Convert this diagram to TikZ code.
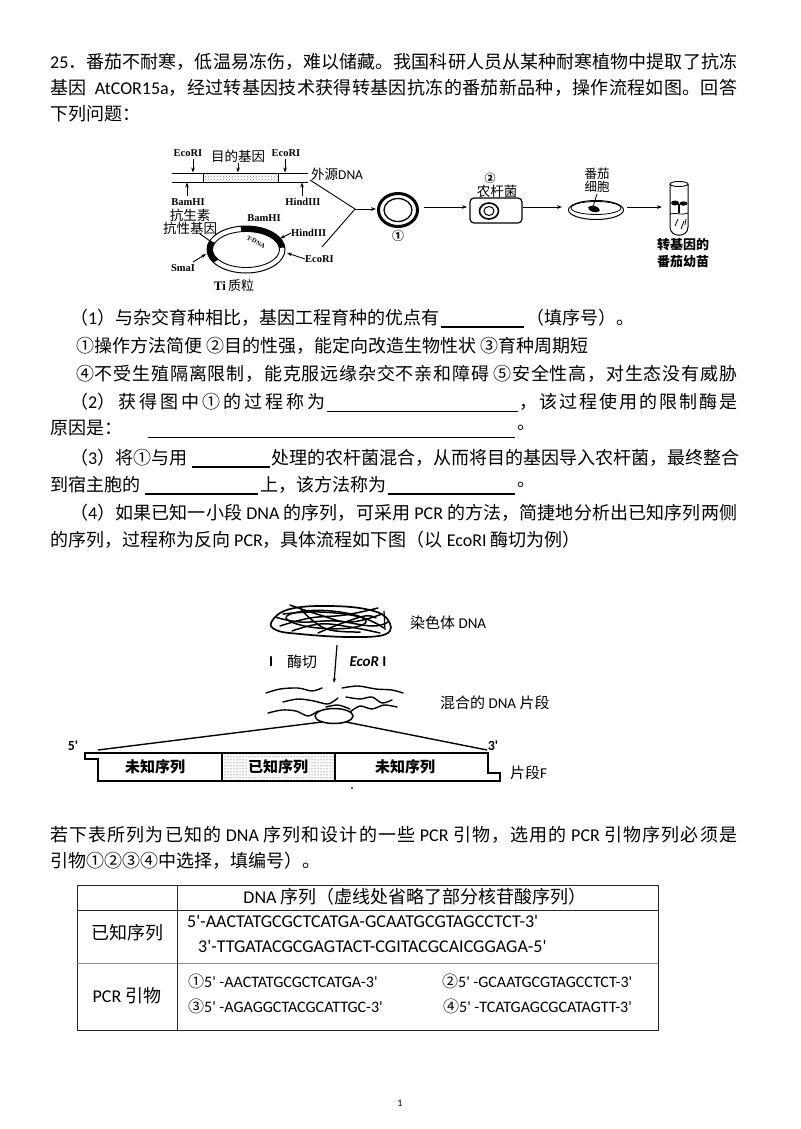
\documentclass[tikz,border=0pt]{standalone}
\usepackage{fontspec}
\setmainfont{Noto Sans CJK SC}
\newfontfamily\lat{Carlito}
\newfontfamily\tnr{Liberation Serif}
\usetikzlibrary{arrows.meta,patterns}
\XeTeXinterchartokenstate=1
\newcount\cjkcc
\def\setcjkrange#1#2{\cjkcc=#1\relax\loop\XeTeXcharclass\cjkcc=5\relax\advance\cjkcc by 1\relax\ifnum\cjkcc<#2\relax\repeat}
\setcjkrange{"3000}{"3040}
\setcjkrange{"4E00}{"A000}
\setcjkrange{"FF00}{"FFF0}
\setcjkrange{"2460}{"2474}
\XeTeXinterchartoks 5 5 = {\hskip 0pt plus 0.3em\relax}
\XeTeXinterchartoks 0 5 = {\hskip 0pt plus 0.3em\relax}
\XeTeXinterchartoks 5 0 = {\hskip 0pt plus 0.3em\relax}
\newcommand\jt[2]{\makebox[#1][s]{#2}}
\newcommand\la[1]{{\lat #1}}
\tikzset{
  txt/.style={inner sep=0pt, anchor=west, font=\fontsize{18}{18}\selectfont},
  lab/.style={inner sep=0pt, font=\fontsize{13.5}{13.5}\selectfont},
  lab2/.style={inner sep=0pt, font=\fontsize{15}{15}\selectfont},
  enz/.style={inner sep=0pt, font=\tnr\bfseries\fontsize{10.5}{10.5}\selectfont},
  arr/.style={-{Stealth[length=5pt,width=3.6pt]}, line width=0.9pt},
  blank/.style={line width=0.8pt},
  tb/.style={line width=0.8pt, draw=black!85},
  seq/.style={inner sep=0pt, anchor=west, font=\lat\fontsize{18}{18}\selectfont},
  pr/.style={inner sep=0pt, anchor=west, font=\fontsize{16}{16}\selectfont},
  frag/.style={line width=1.4pt, line cap=round},
  tang/.style={line width=1.5pt, line cap=round},
}
\begin{document}
\begin{tikzpicture}[x=1pt,y=-1pt]
\useasboundingbox (0,0) rectangle (800,1129);
\fill[white] (0,0) rectangle (800,1129);

% ---------- question text ----------
\node[txt] (t1) at (50,62) {\jt{687pt}{\la{25}．番茄不耐寒，低温易冻伤，难以储藏。我国科研人员从某种耐寒植物中提取了抗冻}};
\node[txt] (t2) at (50,88) {\jt{687pt}{基因\ \ \la{AtCOR15a}，经过转基因技术获得转基因抗冻的番茄新品种，操作流程如图。回答}};
\node[txt] (t3) at (50,114) {下列问题：};

% ---------- top diagram ----------
\fill[pattern=crosshatch dots, pattern color=black!45] (203,173) rectangle (278,182);
\draw[line width=1pt] (172,173) -- (308,173) (172,182) -- (308,182)
  (203,173) -- (203,182) (278,173) -- (278,182);
\node[enz] (e1) at (188,153) {EcoRI};
\node[lab] (gene) at (238,156) {目的基因};
\node[enz] (e2) at (286,153) {EcoRI};
\node[lab, anchor=west] (wai) at (311,174) {外源\la{DNA}};
\node[enz] (b1) at (188,202) {BamHI};
\node[enz] (h1) at (303,202) {HindIII};
\coordinate (pe1) at (193,172.5);
\coordinate (pg) at (238,172.5);
\coordinate (pe2) at (285,172.5);
\coordinate (pb1) at (187,182.5);
\coordinate (ph1) at (302,182.5);
\draw[arr] (193,159) -- (pe1);
\draw[arr] (238,163) -- (pg);
\draw[arr] (285,159) -- (pe2);
\draw[arr] (187,196) -- (pb1);
\draw[arr] (302,196) -- (ph1);

% Ti plasmid
\draw[line width=1pt] (246,249.5) ellipse [x radius=39, y radius=23.5];
\draw[line width=0.9pt] (246,249.5) ellipse [x radius=33.5, y radius=18];
\fill plot[domain=146:202, samples=30] ({246+39*cos(\x)},{249.5+23.5*sin(\x)})
  -- plot[domain=202:146, samples=30] ({246+33.5*cos(\x)},{249.5+18*sin(\x)}) -- cycle;
\fill plot[domain=262:355, samples=40] ({246+39*cos(\x)},{249.5+23.5*sin(\x)})
  -- plot[domain=355:262, samples=40] ({246+33.5*cos(\x)},{249.5+18*sin(\x)}) -- cycle;
\node[inner sep=0, rotate=-28, font=\tnr\bfseries\fontsize{6.5}{6.5}\selectfont] (tdna) at (256,242) {T-DNA};
\node[lab, align=center, font=\fontsize{13.5}{13}\selectfont] (kang) at (190,222) {抗生素\\抗性基因};
\coordinate (pk) at (213,243);
\draw[line width=0.9pt] (200,234) -- (pk);
\node[enz] (b2) at (264,218) {BamHI};
\node[enz, anchor=west] (h2) at (291,233) {HindIII};
\coordinate (ph2) at (280,238.5);
\draw[arr] (h2.west) -- (ph2);
\node[enz, anchor=west] (e3) at (305,259) {EcoRI};
\coordinate (pe3) at (287,253);
\draw[arr] (e3.west) -- (pe3);
\node[enz] (sm) at (183,268) {SmaI};
\coordinate (psm) at (206,254);
\draw[arr] (193,262) -- (psm);
\node[lab, font=\bfseries\fontsize{13}{13}\selectfont] (ti) at (234,286) {\tnr Ti\,\normalfont\fontsize{13}{13}\selectfont 质粒};

% converging lines
\coordinate (jn) at (355,209);
\coordinate (q1) at (310,180);
\coordinate (q2) at (322,247);
\draw[line width=0.9pt] (q1) -- (jn) -- (q2);
\coordinate (r1in) at (376,209);
\draw[arr] (jn) -- (r1in);

% recombinant ring (1)
\draw[line width=3pt] (398,210) ellipse [x radius=19.5, y radius=16.5];
\draw[line width=1.3pt] (398,210) ellipse [x radius=14, y radius=11.5];
\node[inner sep=0, font=\bfseries\fontsize{12}{12}\selectfont] (n1) at (398,236) {①};
\coordinate (a1s) at (424,207);
\coordinate (a1e) at (467,207);
\draw[arr] (a1s) -- (a1e);

% agrobacterium
\node[draw, line width=1.2pt, rounded corners=4pt, minimum width=52pt, minimum height=25pt, inner sep=0] (box) at (496,210.5) {};
\draw[line width=1.6pt] (489,211) ellipse [x radius=9.5, y radius=8];
\draw[line width=1pt] (489,211) ellipse [x radius=5, y radius=4.5];
\node[inner sep=0, font=\bfseries\fontsize{11}{11}\selectfont] (n2) at (490,178) {②};
\node[lab] (nong) at (497,191) {农杆菌};
\coordinate (a2e) at (562,207);
\draw[arr] (box.east |- a2e) -- (a2e);

% petri dish
\draw[line width=1pt] (596,210) ellipse [x radius=27.5, y radius=9.5];
\draw[line width=0.8pt] (596,208) ellipse [x radius=25, y radius=6.5];
\fill[rotate around={-15:(594,209)}] (594,209) ellipse [x radius=6, y radius=3];
\node[lab, font=\fontsize{12.5}{13}\selectfont, align=center] (fan) at (597,180) {番茄\\细胞};
\draw[line width=0.8pt] (597,194) -- (593,207);
\coordinate (a3s) at (627,207);
\coordinate (a3e) at (662,207);
\draw[arr] (a3s) -- (a3e);

% test tube
\draw[line width=1pt] (670,184) -- (670,227) .. controls (670,238) and (688,238) .. (688,227) -- (688,184);
\draw[line width=0.9pt] (679,184) ellipse [x radius=9, y radius=2.5];
\draw[line width=0.8pt] (670,214) .. controls (676,212) and (682,216) .. (688,213);
\draw[line width=1.2pt] (679,213) -- (679,204);
\fill (675,203) ellipse [x radius=4, y radius=2.5];
\fill (683.5,203.5) ellipse [x radius=4, y radius=2.2];
\draw[line width=0.8pt] (675,226) -- (678,219) (681,229) -- (684,221) (685,225) -- (686,219);
\node[lab, font=\bfseries\fontsize{13}{16.5}\selectfont, align=center] (tube) at (683,253) {转基因的\\番茄幼苗};

% ---------- questions ----------
\node[txt] (q1a) at (70,318) {（\la{1}）与杂交育种相比，基因工程育种的优点有};
\draw[line width=1.2pt] (441,327) -- (524,327);
\node[txt] (q1b) at (526,318) {（填序号）。};
\node[txt] (o1) at (76,346) {①操作方法简便 ②目的性强，能定向改造生物性状 ③育种周期短};
\node[txt] (o2) at (76,374) {\jt{661pt}{④不受生殖隔离限制，能克服远缘杂交不亲和障碍 ⑤安全性高，对生态没有威胁}};
\node[txt] (q2a) at (70,402) {\jt{255pt}{（\la{2}）获得图中①的过程称为}};
\draw[blank] (327,411) -- (518,411);
\node[txt] (q2b) at (519,402) {\jt{218pt}{，该过程使用的限制酶是}};
\node[txt] (q2c) at (50,428) {原因是：};
\draw[blank] (148,437) -- (515,437);
\node[txt] (q2d) at (517,428) {。};
\node[txt] (q3a) at (70,458) {（\la{3}）将①与用};
\draw[line width=1.2pt] (192,467) -- (270,467);
\node[txt] (q3b) at (271,458) {\jt{466pt}{处理的农杆菌混合，从而将目的基因导入农杆菌，最终整合}};
\node[txt] (q3c) at (50,485) {到宿主胞的};
\draw[line width=1.2pt] (145,494) -- (258,494);
\node[txt] (q3d) at (260,485) {上，该方法称为};
\draw[line width=1.2pt] (388,494) -- (515,494);
\node[txt] (q3e) at (517,485) {。};
\node[txt] (q4a) at (70,513) {\jt{667pt}{（\la{4}）如果已知一小段 \la{DNA} 的序列，可采用 \la{PCR} 的方法，简捷地分析出已知序列两侧}};
\node[txt] (q4b) at (50,540) {的序列，过程称为反向 \la{PCR}，具体流程如下图（以 \la{EcoRI} 酶切为例）};

% ---------- inverse PCR diagram ----------
\draw[line width=1.7pt] plot[smooth cycle, tension=0.7] coordinates {(272,621) (290,609) (330,606) (370,610) (388,620) (386,634) (350,637) (300,634) (276,630)};
\draw[tang] plot[smooth, tension=0.7] coordinates {(283,614) (320,612) (360,617) (384,628)};
\draw[tang] plot[smooth, tension=0.7] coordinates {(280,626) (310,618) (345,615) (378,608)};
\draw[tang] plot[smooth, tension=0.7] coordinates {(292,631) (320,624) (350,627) (380,633)};
\draw[tang] plot[smooth, tension=0.7] coordinates {(300,608) (312,620) (330,630) (360,632)};
\draw[tang] plot[smooth cycle, tension=0.7] coordinates {(286,618) (305,611) (340,612) (366,620) (350,628) (310,627)};
\draw[tang] plot[smooth, tension=0.7] coordinates {(275,617) (300,622) (335,621) (372,626) (388,622)};
\draw[tang] plot[smooth, tension=0.7] coordinates {(290,605) (320,615) (350,622) (382,614)};
\draw[tang] plot[smooth, tension=0.7] coordinates {(318,633) (340,624) (365,616) (376,618)};
\draw[line width=1.2pt] (384,611) -- (385,630);
\node[lab2, anchor=west] (chrom) at (410,623) {染色体 \la{DNA}};
\coordinate (cu1) at (337,645);
\coordinate (cu2) at (334,683);
\draw[arr, line width=1.2pt] (cu1) -- (cu2);
\node[lab2] (iL) at (271,662) {\la{\bfseries I}};
\node[lab2] (mq) at (302,662) {酶切};
\node[inner sep=0, font=\lat\bfseries\fontsize{15}{15}\selectfont] (eco) at (368,662) {\textit{EcoR} I};
\draw[frag] plot[smooth] coordinates {(266,693) (280,689) (298,688) (312,691) (322,688)};
\draw[frag] plot[smooth] coordinates {(342,688) (358,686) (376,689) (392,690) (403,693)};
\draw[frag] plot[smooth] coordinates {(283,702) (298,699) (314,701) (328,704) (338,698)};
\draw[frag] plot[smooth] coordinates {(346,697) (360,699) (372,697) (382,703) (392,700)};
\draw[frag] plot[smooth] coordinates {(268,713) (282,710) (296,711) (308,716) (318,711)};
\draw[frag] plot[smooth] coordinates {(350,712) (360,706) (372,709) (384,705) (397,707)};
\draw[frag] plot[smooth] coordinates {(326,707) (338,705) (350,709)};
\draw[line width=1.5pt] (334,716) ellipse [x radius=19, y radius=7.5];
\node[lab2, anchor=west] (mix) at (440,703) {混合的 \la{DNA} 片段};

% fragment F
\coordinate (fl) at (98,750);
\coordinate (fr) at (487,750);
\coordinate (el) at (322,722);
\coordinate (er) at (346,722);
\draw[line width=1.4pt] (fl) -- (el);
\draw[line width=1.4pt] (er) -- (fr);
\fill[pattern=dots, pattern color=black!80] (222,753) rectangle (335,781);
\draw[line width=2pt, line join=miter] (85,753) -- (488,753) -- (488,773) -- (500,773) -- (500,781) -- (98,781) -- (98,759) -- (85,759) -- cycle;
\draw[line width=1.6pt] (222,753) -- (222,781) (335,753) -- (335,781);
\node[lab2, font=\bfseries\fontsize{15}{15}\selectfont, fill=white, inner sep=0.5pt] (u1) at (155,767) {未知序列};
\node[lab2, font=\bfseries\fontsize{15}{15}\selectfont, fill=white, inner sep=0.5pt] (k1) at (278,767) {已知序列};
\node[lab2, font=\bfseries\fontsize{15}{15}\selectfont] (u2) at (405,767) {未知序列};
\node[inner sep=0, font=\lat\bfseries\fontsize{14}{14}\selectfont] (p5) at (73,746) {5'};
\node[inner sep=0, font=\lat\bfseries\fontsize{14}{14}\selectfont] (p3) at (493,746) {3'};
\node[lab2, anchor=west] (pf) at (510,773) {片段\la{F}};
\fill (352,788) circle [radius=1];

% ---------- table question ----------
\node[txt] (q5a) at (50,835) {\jt{687pt}{若下表所列为已知的 \la{DNA} 序列和设计的一些 \la{PCR} 引物，选用的 \la{PCR} 引物序列必须是}};
\node[txt] (q5b) at (50,861) {引物①②③④中选择，填编号）。};

\draw[tb] (77,885) rectangle (658,1030);
\draw[tb] (77,910) -- (658,910);
\draw[line width=0.8pt, draw=black!45] (77,963) -- (658,963);
\draw[tb] (177,885) -- (177,1030);
\node[inner sep=0, font=\fontsize{18}{18}\selectfont] (hd) at (415,897) {\la{DNA} 序列（虚线处省略了部分核苷酸序列）};
\node[inner sep=0, font=\fontsize{18}{18}\selectfont] (c1) at (127,933) {已知序列};
\node[inner sep=0, font=\fontsize{18}{18}\selectfont] (c2) at (127,996) {\la{PCR} 引物};
\node[seq] (s1) at (187,921) {5'-AACTATGCGCTCATGA-GCAATGCGTAGCCTCT-3'};
\node[seq] (s2) at (198,946) {3'-TTGATACGCGAGTACT-CGITACGCAICGGAGA-5'};
\node[pr] (pr1) at (188,981) {①\la{5' -AACTATGCGCTCATGA-3'}};
\node[pr] (pr2) at (442,981) {②\la{5' -GCAATGCGTAGCCTCT-3'}};
\node[pr] (pr3) at (188,1006) {③\la{5' -AGAGGCTACGCATTGC-3'}};
\node[pr] (pr4) at (443,1006) {④\la{5' -TCATGAGCGCATAGTT-3'}};

\node[inner sep=0, font=\lat\fontsize{10}{10}\selectfont] (pg1) at (400,1103) {1};
\end{tikzpicture}
\end{document}
